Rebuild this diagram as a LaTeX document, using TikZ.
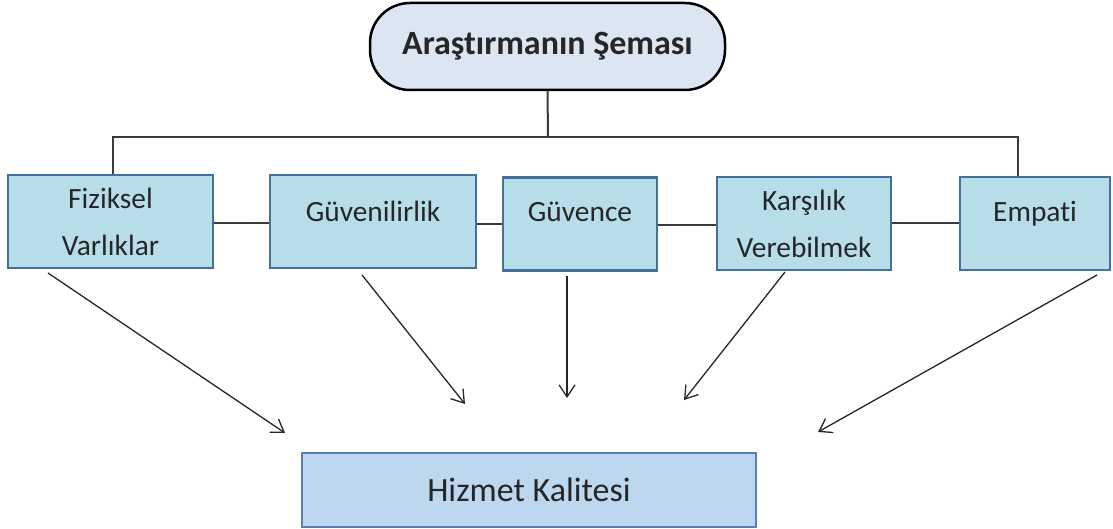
\documentclass[tikz,border=0pt]{standalone}
\usepackage{fontspec}
\setmainfont[Ligatures=NoCommon]{Carlito}
\usetikzlibrary{arrows.meta}
\definecolor{txt}{HTML}{262626}
\definecolor{boxfill}{HTML}{B7DEE8}
\definecolor{boxline}{HTML}{41719C}
\definecolor{topfill}{HTML}{DCE6F2}
\definecolor{endfill}{HTML}{BDD7EE}
\definecolor{endline}{HTML}{5B7FB5}
\definecolor{wire}{HTML}{3A3A3A}
\begin{document}
\begin{tikzpicture}[x=0.5pt,y=-0.5pt,
  factor/.style={draw=boxline, line width=1.3pt, fill=boxfill, inner sep=0pt,
    text=txt, font=\fontsize{14.7}{23.5}\selectfont, align=center},
  boxtext/.style={text=txt, font=\fontsize{14.7}{23.5}\selectfont, inner sep=0pt},
  title/.style={draw=black, line width=1.25pt, fill=topfill, rounded corners=20pt,
    minimum width=177.5pt, minimum height=43.5pt, inner sep=0pt,
    text=txt, font=\fontsize{17}{20}\selectfont\bfseries},
  result/.style={draw=endline, line width=0.8pt, fill=endfill, inner sep=0pt,
    minimum width=227pt, minimum height=37pt, text=txt,
    font=\fontsize{17}{20}\selectfont},
  wireline/.style={draw=wire, line width=1pt},
  flow/.style={draw=black!85, line width=0.65pt,
    -{Straight Barb[length=6pt,width=8pt,line width=0.65pt]}}
]
\useasboundingbox (0,0) rectangle (1113,529);

% heading
\node[title] (top) at (547.5,46.5) {Araştırmanın Şeması};

% the five dimensions
\node[factor, minimum width=102.5pt, minimum height=46.5pt] (fiz) at (110.5,221.5)
  {Fiziksel\\Varlıklar};
\node[factor, minimum width=103pt, minimum height=46.5pt,
  label={[boxtext, yshift=5pt]center:Güvenilirlik}] (guv) at (373,221.5) {};
\node[factor, minimum width=77pt, minimum height=46.5pt,
  label={[boxtext, yshift=6pt]center:Güvence}] (gvc) at (580,224) {};
\node[factor, minimum width=87pt, minimum height=46.5pt] (kar) at (804,223.5)
  {Karşılık\\Verebilmek};
\node[factor, minimum width=75pt, minimum height=46.5pt,
  label={[boxtext, yshift=5pt]center:Empati}] (emp) at (1035,223.5) {};

% outcome
\node[result] (hk) at (529,490) {Hizmet Kalitesi};

% tree from heading to the dimensions
\coordinate (bus) at (548,137);
\coordinate (dropL) at (113,137);
\coordinate (dropR) at (1018,137);
\draw[wireline] (top.south) -- (bus);
\draw[wireline] (dropL |- fiz.north) -- (dropL) -- (dropR) -- (dropR |- emp.north);

% links between neighbouring boxes
\draw[wireline] (fiz.east |- 0,223) -- (guv.west |- 0,223);
\draw[wireline] (guv.east |- 0,224) -- (gvc.west |- 0,224);
\draw[wireline] (gvc.east |- 0,225) -- (kar.west |- 0,225);
\draw[wireline] (kar.east |- 0,223) -- (emp.west |- 0,223);

% arrows towards the outcome
\coordinate (a1) at (48,273);   \coordinate (b1) at (285,433);
\coordinate (a2) at (362,275);  \coordinate (b2) at (465,404);
\coordinate (a3) at (567,276);  \coordinate (b3) at (567,398);
\coordinate (a4) at (785,272);  \coordinate (b4) at (684,400);
\coordinate (a5) at (1097,275); \coordinate (b5) at (818,432);
\draw[flow] (a1) -- (b1);
\draw[flow] (a2) -- (b2);
\draw[flow] (a3) -- (b3);
\draw[flow] (a4) -- (b4);
\draw[flow] (a5) -- (b5);
\end{tikzpicture}
\end{document}
